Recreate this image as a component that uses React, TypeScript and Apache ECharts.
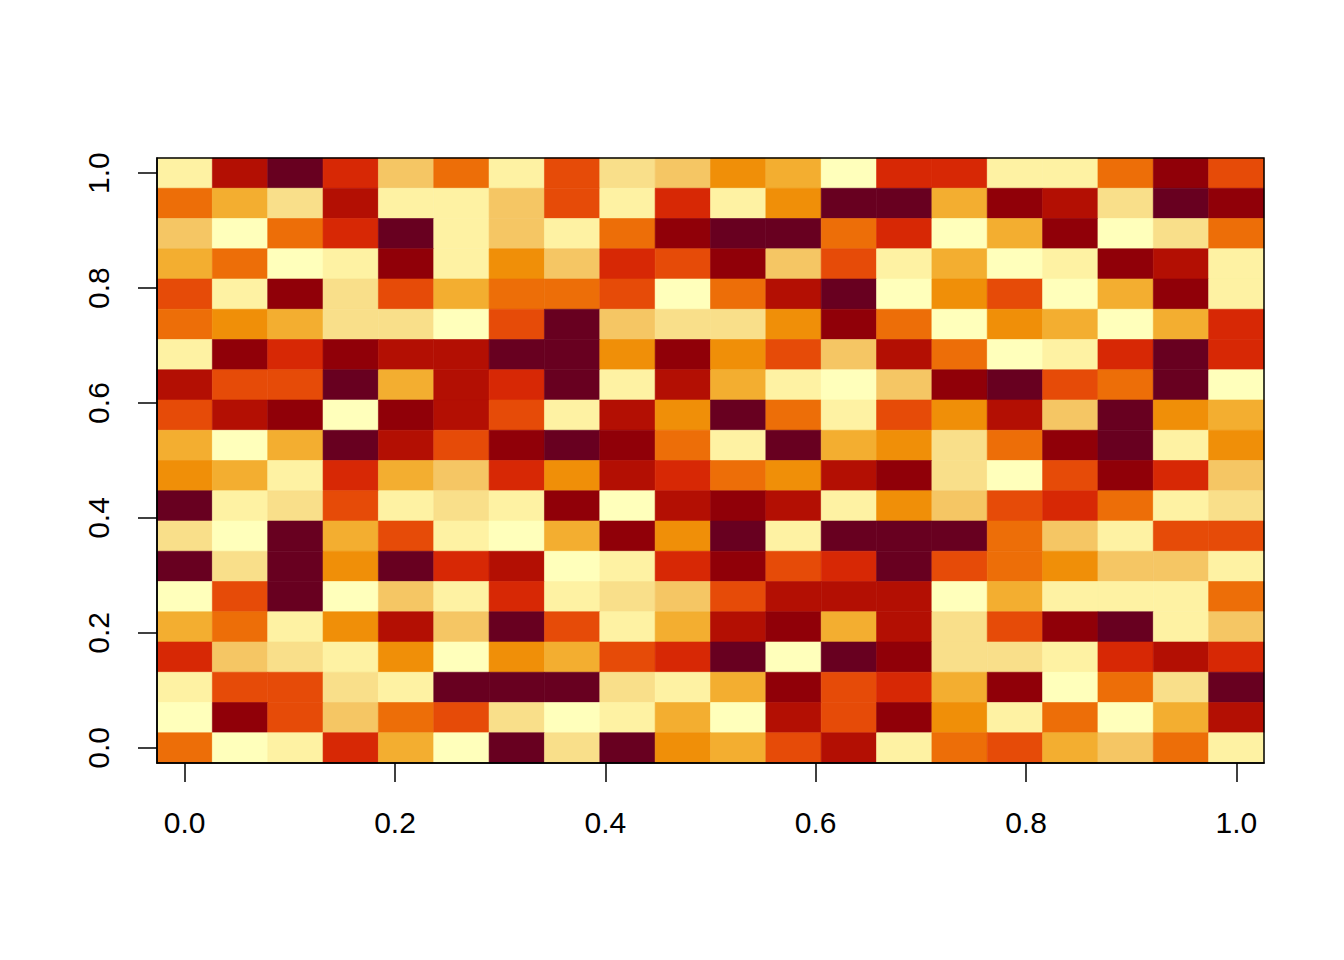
import { useEffect, useRef } from "react";
import * as echarts from "echarts";

// colour levels, darkest (1) to lightest (12)
const palette = [
	"#680020",
	"#900008",
	"#B30F03",
	"#D72805",
	"#E64B08",
	"#ED6E08",
	"#F08F08",
	"#F3AE30",
	"#F5C664",
	"#F9DF8A",
	"#FEF2A3",
	"#FFFFBB",
];

// cell levels, one row per line, top row (y = 1.0) first, left to right
const levels = [
	[11, 3, 1, 4, 9, 6, 11, 5, 10, 9, 7, 8, 12, 4, 4, 11, 11, 6, 2, 5],
	[6, 8, 10, 3, 11, 11, 9, 5, 11, 4, 11, 7, 1, 1, 8, 2, 3, 10, 1, 2],
	[9, 12, 6, 4, 1, 11, 9, 11, 6, 2, 1, 1, 6, 4, 12, 8, 2, 12, 10, 6],
	[8, 6, 12, 11, 2, 11, 7, 9, 4, 5, 2, 9, 5, 11, 8, 12, 11, 2, 3, 11],
	[5, 11, 2, 10, 5, 8, 6, 6, 5, 12, 6, 3, 1, 12, 7, 5, 12, 8, 2, 11],
	[6, 7, 8, 10, 10, 12, 5, 1, 9, 10, 10, 7, 2, 6, 12, 7, 8, 12, 8, 4],
	[11, 2, 4, 2, 3, 3, 1, 1, 7, 2, 7, 5, 9, 3, 6, 12, 11, 4, 1, 4],
	[3, 5, 5, 1, 8, 3, 4, 1, 11, 3, 8, 11, 12, 9, 2, 1, 5, 6, 1, 12],
	[5, 3, 2, 12, 2, 3, 5, 11, 3, 7, 1, 6, 11, 5, 7, 3, 9, 1, 7, 8],
	[8, 12, 8, 1, 3, 5, 2, 1, 2, 6, 11, 1, 8, 7, 10, 6, 2, 1, 11, 7],
	[7, 8, 11, 4, 8, 9, 4, 7, 3, 4, 6, 7, 3, 2, 10, 12, 5, 2, 4, 9],
	[1, 11, 10, 5, 11, 10, 11, 2, 12, 3, 2, 3, 11, 7, 9, 5, 4, 6, 11, 10],
	[10, 12, 1, 8, 5, 11, 12, 8, 2, 7, 1, 11, 1, 1, 1, 6, 9, 11, 5, 5],
	[1, 10, 1, 7, 1, 4, 3, 12, 11, 4, 2, 5, 4, 1, 5, 6, 7, 9, 9, 11],
	[12, 5, 1, 12, 9, 11, 4, 11, 10, 9, 5, 3, 3, 3, 12, 8, 11, 11, 11, 6],
	[8, 6, 11, 7, 3, 9, 1, 5, 11, 8, 3, 2, 8, 3, 10, 5, 2, 1, 11, 9],
	[4, 9, 10, 11, 7, 12, 7, 8, 5, 4, 1, 12, 1, 2, 10, 10, 11, 4, 3, 4],
	[11, 5, 5, 10, 11, 1, 1, 1, 10, 11, 8, 2, 5, 4, 8, 2, 12, 6, 10, 1],
	[12, 2, 5, 9, 6, 5, 10, 12, 11, 8, 12, 3, 5, 2, 7, 11, 6, 12, 8, 3],
	[6, 12, 11, 4, 8, 12, 1, 10, 1, 7, 8, 5, 3, 11, 6, 5, 8, 9, 6, 11],
];

const tickValues = [0, 0.2, 0.4, 0.6, 0.8, 1.0];

const nRows = levels.length;
const nCols = levels[0].length;

const App = () => {
	const chartRef = useRef<HTMLDivElement>(null);

	useEffect(() => {
		if (!chartRef.current) return;
		const chart = echarts.init(chartRef.current, null, { renderer: "svg" });

		// cell centres run from 0 to 1, as in R's image()
		const data: number[][] = [];
		levels.forEach((row, r) => {
			row.forEach((lv, c) => {
				data.push([c / (nCols - 1), 1 - r / (nRows - 1), lv]);
			});
		});
		const halfW = 0.5 / (nCols - 1);
		const halfH = 0.5 / (nRows - 1);

		const labelStyle = {
			fontSize: 30,
			color: "#000",
			fontFamily: "Liberation Sans, Arial, sans-serif",
		};
		const tickStyle = {
			show: true,
			customValues: tickValues,
			length: 19,
			inside: false,
			lineStyle: { color: "#000", width: 1.5 },
		};

		const option = {
			animation: false,
			backgroundColor: "#fff",
			grid: {
				left: 157,
				right: 80,
				top: 158,
				bottom: 197,
				show: true,
				borderColor: "#000",
				borderWidth: 1.5,
				backgroundColor: "transparent",
				z: 10,
			},
			xAxis: {
				type: "value",
				min: -halfW,
				max: 1 + halfW,
				z: 10,
				axisLine: { show: true, onZero: false, lineStyle: { color: "#000", width: 1.5 } },
				splitLine: { show: false },
				axisTick: tickStyle,
				axisLabel: {
					...labelStyle,
					customValues: tickValues,
					formatter: (v: number) => v.toFixed(1),
					margin: 44,
				},
			},
			yAxis: {
				type: "value",
				min: -halfH,
				max: 1 + halfH,
				z: 10,
				axisLine: { show: true, onZero: false, lineStyle: { color: "#000", width: 1.5 } },
				splitLine: { show: false },
				axisTick: tickStyle,
				axisLabel: {
					...labelStyle,
					customValues: tickValues,
					formatter: (v: number) => v.toFixed(1),
					rotate: 90,
					margin: 44,
				},
			},
			series: [
				{
					type: "custom",
					data,
					renderItem: (params: any, api: any) => {
						const x = api.value(0);
						const y = api.value(1);
						const lv = api.value(2);
						const p0 = api.coord([x - halfW, y + halfH]);
						const p1 = api.coord([x + halfW, y - halfH]);
						const color = palette[lv - 1];
						return {
							type: "rect",
							shape: { x: p0[0], y: p0[1], width: p1[0] - p0[0], height: p1[1] - p0[1] },
							style: { fill: color, stroke: color, lineWidth: 0.6 },
						};
					},
				},
			],
		};

		chart.setOption(option);
		return () => {
			chart.dispose();
		};
	}, []);

	return (
		<div
			ref={chartRef}
			style={{ position: "fixed", left: 0, top: 0, width: 1344, height: 960, background: "#fff" }}
		/>
	);
};

export default App;
